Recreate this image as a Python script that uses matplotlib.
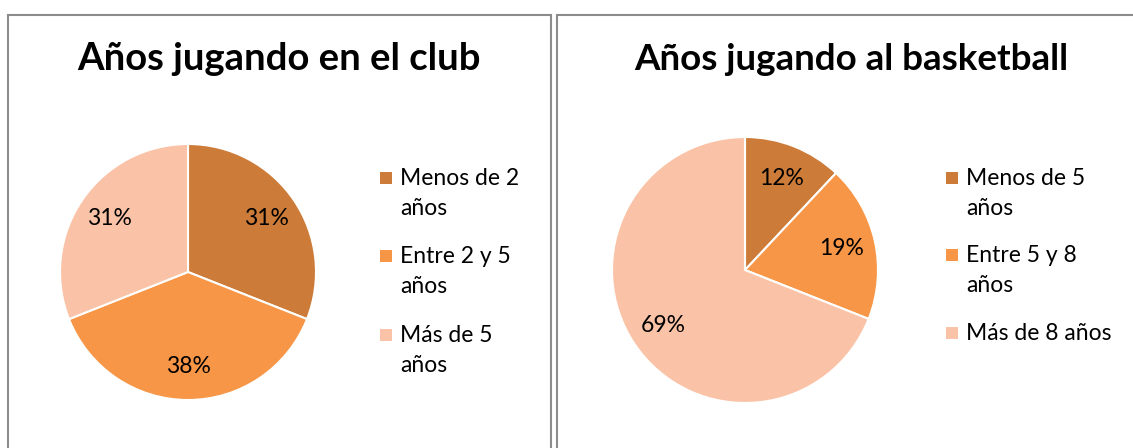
import matplotlib.pyplot as plt
from matplotlib.patches import Rectangle

# chart data
club_labels = ["Menos de 2\naños", "Entre 2 y 5\naños", "Más de 5\naños"]
club_values = [31, 38, 31]
basket_labels = ["Menos de 5\naños", "Entre 5 y 8\naños", "Más de 8 años"]
basket_values = [12, 19, 69]
colors = ["#CC7B38", "#F79646", "#FAC3A7"]

W, H = 1133, 448
plt.rcParams['font.family'] = ['Lato', 'DejaVu Sans']

fig = plt.figure(figsize=(W / 100, H / 100), dpi=100)
fig.patch.set_facecolor("white")


def fx(x):
    return x / W


def fy(y):
    return 1 - y / H


def panel(x0, x1, title, tsize, tcx, cx, cy, r, labels, values, lx, baselines):
    fig.patches.append(Rectangle((fx(x0), fy(H + 20)), fx(x1 - x0), (H + 20 - 15) / H,
                                 transform=fig.transFigure, fill=False,
                                 edgecolor="#8c8c8c", linewidth=1.5))
    fig.text(fx(tcx), fy(70), title, ha="center", va="baseline",
             fontsize=tsize, fontweight="bold", color="black")

    ax = fig.add_axes([fx(cx - r), fy(cy + r), 2 * r / W, 2 * r / H])
    ax.pie(values, colors=colors, startangle=90, counterclock=False,
           autopct=lambda p: f"{p:.0f}%", pctdistance=0.74,
           wedgeprops=dict(edgecolor="white", linewidth=1.5),
           textprops=dict(fontsize=16.5, color="black"))
    ax.set_xlim(-1, 1)
    ax.set_ylim(-1, 1)
    ax.set_aspect("auto")
    ax.axis("off")

    # legend
    for lab, col, base in zip(labels, colors, baselines):
        fig.patches.append(Rectangle((fx(lx), fy(base - 1)), 12 / W, 12 / H,
                                     transform=fig.transFigure, facecolor=col,
                                     edgecolor="none"))
        for i, line in enumerate(lab.split("\n")):
            fig.text(fx(lx + 20), fy(base + 30 * i), line, ha="left",
                     va="baseline", fontsize=16.5, color="black")


panel(8, 551, "Años jugando en el club", 27.5, 279, 188, 272, 128,
      club_labels, club_values, 380, [185, 263, 342])
panel(557, 1145, "Años jugando al basketball", 26.5, 851, 745, 270, 133,
      basket_labels, basket_values, 946, [185, 262, 340])

fig.savefig("out.png", dpi=100, facecolor="white")
